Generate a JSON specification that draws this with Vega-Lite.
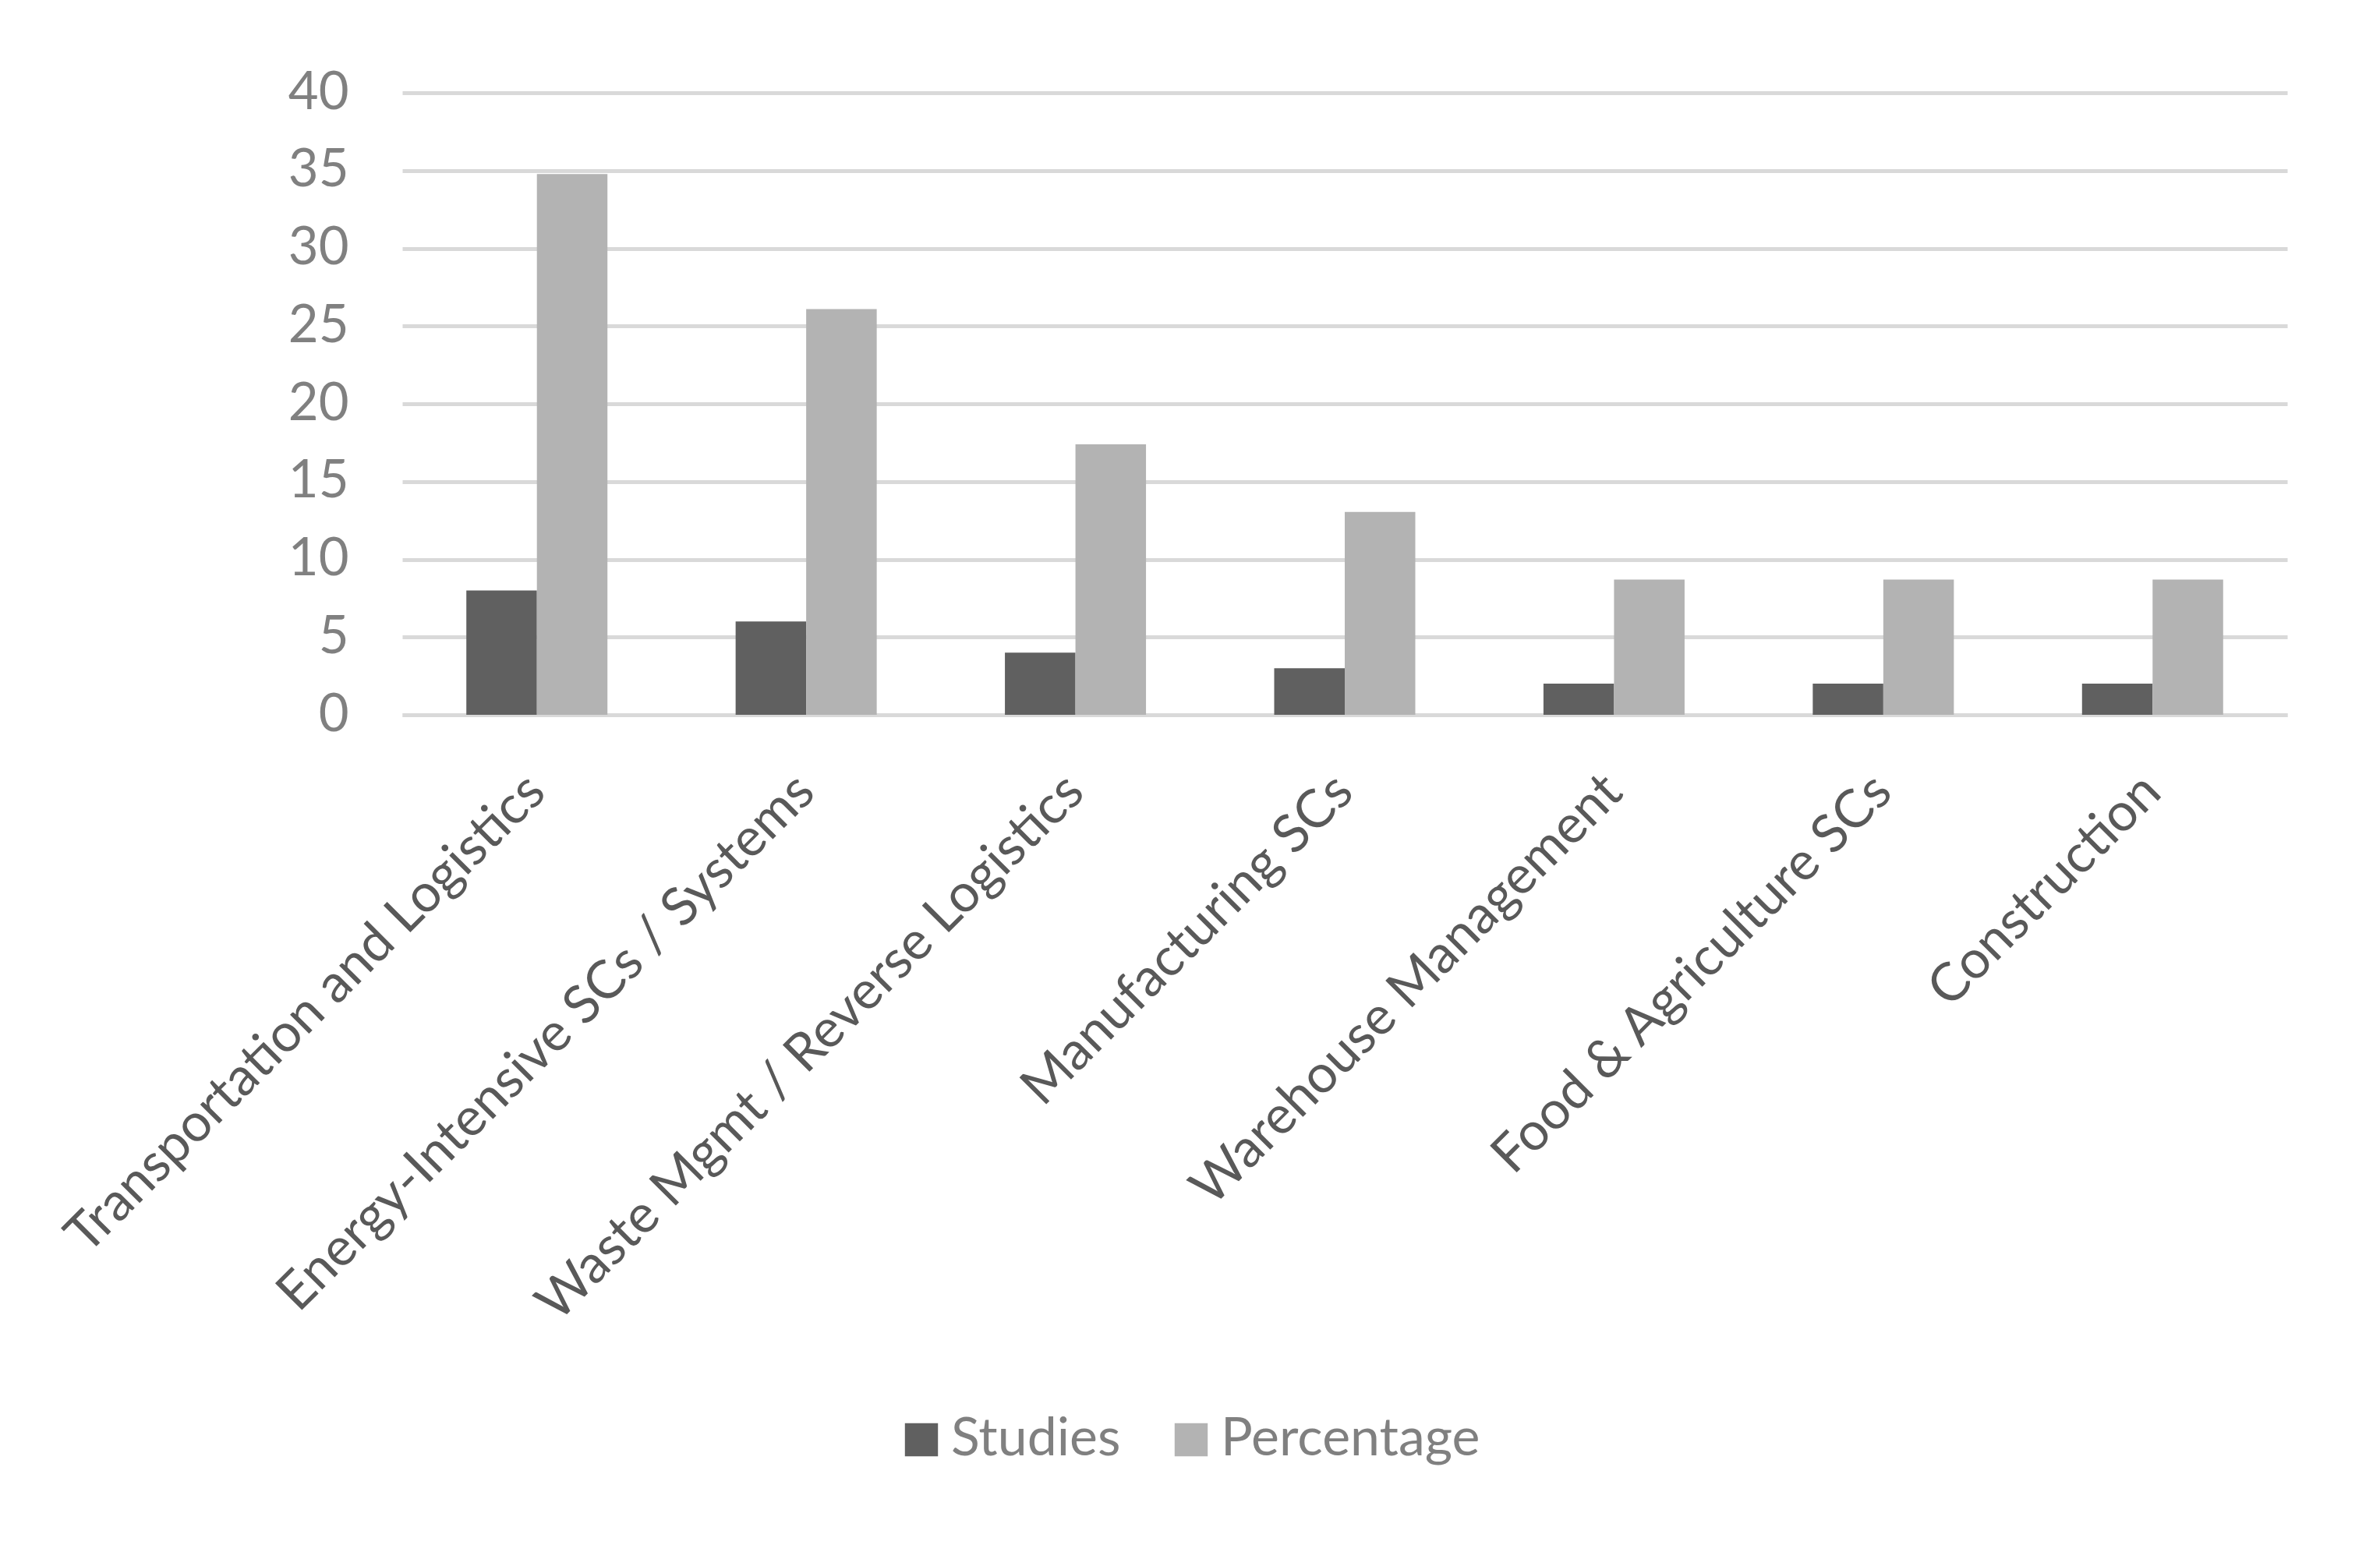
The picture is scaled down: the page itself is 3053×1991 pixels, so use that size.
{
  "$schema": "https://vega.github.io/schema/vega-lite/v6.json",
  "autosize": {"type": "none"},
  "width": 2418,
  "height": 798,
  "padding": {"left": 516, "top": 119, "right": 119, "bottom": 1074},
  "background": "white",
  "data": {
    "values": [
      {"category": "Transportation and Logistics", "series": "Studies", "value": 8},
      {"category": "Transportation and Logistics", "series": "Percentage", "value": 34.78},
      {"category": "Energy-Intensive SCs / Systems", "series": "Studies", "value": 6},
      {"category": "Energy-Intensive SCs / Systems", "series": "Percentage", "value": 26.09},
      {"category": "Waste Mgmt / Reverse Logistics", "series": "Studies", "value": 4},
      {"category": "Waste Mgmt / Reverse Logistics", "series": "Percentage", "value": 17.39},
      {"category": "Manufacturing SCs", "series": "Studies", "value": 3},
      {"category": "Manufacturing SCs", "series": "Percentage", "value": 13.04},
      {"category": "Warehouse Management", "series": "Studies", "value": 2},
      {"category": "Warehouse Management", "series": "Percentage", "value": 8.7},
      {"category": "Food & Agriculture SCs", "series": "Studies", "value": 2},
      {"category": "Food & Agriculture SCs", "series": "Percentage", "value": 8.7},
      {"category": "Construction", "series": "Studies", "value": 2},
      {"category": "Construction", "series": "Percentage", "value": 8.7}
    ]
  },
  "mark": {"type": "bar"},
  "encoding": {
    "x": {
      "field": "category",
      "type": "nominal",
      "sort": null,
      "scale": {"paddingInner": 0.476, "paddingOuter": 0.238},
      "axis": {
        "title": null,
        "labelAngle": -45,
        "labelBaseline": "middle",
        "labelFont": "Lato",
        "labelFontSize": 68,
        "labelColor": "#595959",
        "labelPadding": 88,
        "labelLimit": 2000,
        "ticks": false,
        "domain": true,
        "domainColor": "#d9d9d9",
        "domainWidth": 5,
        "grid": false
      }
    },
    "xOffset": {
      "field": "series",
      "type": "nominal",
      "sort": ["Studies", "Percentage"],
      "scale": {"paddingInner": 0, "paddingOuter": 0}
    },
    "y": {
      "field": "value",
      "type": "quantitative",
      "scale": {"domain": [0, 40], "nice": false},
      "axis": {
        "title": null,
        "values": [0, 5, 10, 15, 20, 25, 30, 35, 40],
        "labelFont": "Lato",
        "labelFontSize": 67,
        "labelColor": "#808080",
        "labelPadding": 69,
        "ticks": false,
        "domain": false,
        "grid": true,
        "gridColor": "#d9d9d9",
        "gridWidth": 5
      }
    },
    "color": {
      "field": "series",
      "type": "nominal",
      "sort": ["Studies", "Percentage"],
      "scale": {"domain": ["Studies", "Percentage"], "range": ["#606060", "#b3b3b3"]},
      "legend": {
        "title": null,
        "orient": "none",
        "direction": "horizontal",
        "legendX": 632,
        "legendY": 1694,
        "symbolType": "square",
        "symbolSize": 1800,
        "symbolStrokeWidth": 0,
        "labelFont": "Lato",
        "labelFontSize": 68,
        "labelColor": "#808080",
        "labelOffset": 4,
        "labelLimit": 1000,
        "columnPadding": 56,
        "padding": 0
      }
    }
  },
  "config": {
    "view": {"stroke": null},
    "bar": {"stroke": null}
  }
}
